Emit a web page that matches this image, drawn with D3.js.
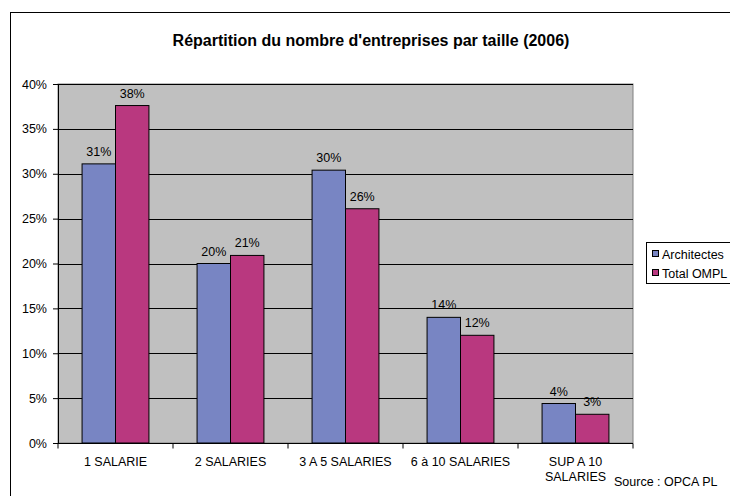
<!DOCTYPE html>
<html>
<head>
<meta charset="utf-8">
<script src="https://cdn.jsdelivr.net/npm/d3@7"></script>
<style>
  body { margin: 0; background: #fff; }
  svg text { font-family: "Liberation Sans", Arial, sans-serif; fill: #000; }
</style>
</head>
<body>
<div id="chart"></div>
<script>
const categories = ["1 SALARIE", "2 SALARIES", "3 A 5 SALARIES", "6 à 10 SALARIES", "SUP A 10 SALARIES"]
const seriesNames = ["Architectes", "Total OMPL"]
const architectes = [31.1, 20.0, 30.4, 14.0, 4.4]
const totalOmpl = [37.6, 20.9, 26.1, 12.0, 3.2]
const yTicks = [0, 5, 10, 15, 20, 25, 30, 35, 40]
const colors = ["#7885c3", "#b9387f"]

const width = 730, height = 496
const margin = {top: 84, left: 58, right: 97, bottom: 53}
const fs = 12.5

const svg = d3.select('#chart')
    .append('svg')
    .attr('width', width)
    .attr('height', height)

// outer frame
svg.append("rect")
    .attr("x", 10.5).attr("y", 12.5)
    .attr("width", 740).attr("height", 500)
    .attr("fill", "none")
    .attr("stroke", "#000")

svg.append("text")
    .attr("x", 371).attr("y", 46)
    .attr("text-anchor", "middle")
    .attr("font-size", 16)
    .attr("font-weight", "bold")
    .text("Répartition du nombre d'entreprises par taille (2006)")

const x = d3.scaleBand(categories, [margin.left, width - margin.right])
const xInner = d3.scaleBand(seriesNames, [0, x.bandwidth()]).paddingInner(0).paddingOuter(0.72)
const y = d3.scaleLinear([0, 40], [height - margin.bottom, margin.top])

svg.append("rect")
    .attr("x", margin.left).attr("y", margin.top)
    .attr("width", width - margin.right - margin.left)
    .attr("height", height - margin.bottom - margin.top)
    .attr("fill", "#c0c0c0")
    .attr("stroke", "#808080")

svg.append("g")
    .selectAll("line")
    .data(yTicks.slice(1))
    .join("line")
    .attr("x1", margin.left).attr("x2", width - margin.right)
    .attr("y1", d => Math.round(y(d)) + 0.5).attr("y2", d => Math.round(y(d)) + 0.5)
    .attr("stroke", "#000")

const rows = categories.map((c, i) => ({cat: c, values: [architectes[i], totalOmpl[i]]}))

const groups = svg.append("g")
    .selectAll("g")
    .data(rows)
    .join("g")
    .attr("transform", d => `translate(${x(d.cat)},0)`)

groups.selectAll("rect")
    .data(d => d.values.map((v, j) => ({name: seriesNames[j], v, j})))
    .join("rect")
    .attr("x", d => xInner(d.name))
    .attr("y", d => y(d.v))
    .attr("width", xInner.bandwidth())
    .attr("height", d => y(0) - y(d.v))
    .attr("fill", d => colors[d.j])
    .attr("stroke", "#000")
    .attr("stroke-width", 1)

groups.selectAll("text")
    .data(d => d.values.map((v, j) => ({name: seriesNames[j], v, j})))
    .join("text")
    .attr("x", d => xInner(d.name) + xInner.bandwidth() / 2)
    .attr("y", d => y(d.v) - 8)
    .attr("text-anchor", "middle")
    .attr("font-size", fs)
    .text(d => Math.round(d.v) + "%")

// y axis
const yAxis = svg.append("g")
    .attr("transform", `translate(${margin.left},0)`)
    .call(d3.axisLeft(y).tickValues(yTicks).tickFormat(d => d + "%").tickSize(5).tickPadding(6))
yAxis.select(".domain").attr("stroke", "#000")
yAxis.selectAll("text").attr("font-size", fs)

// x axis
const xAxisG = svg.append("g").attr("transform", `translate(0,${height - margin.bottom + 0.5})`)
xAxisG.append("line")
    .attr("x1", margin.left).attr("x2", width - margin.right)
    .attr("stroke", "#000")
xAxisG.selectAll("line.tick")
    .data(d3.range(categories.length + 1))
    .join("line")
    .attr("class", "tick")
    .attr("x1", i => i < categories.length ? x(categories[i]) : x(categories[i - 1]) + x.bandwidth())
    .attr("x2", i => i < categories.length ? x(categories[i]) : x(categories[i - 1]) + x.bandwidth())
    .attr("y1", 0).attr("y2", 5)
    .attr("stroke", "#000")

xAxisG.selectAll("text")
    .data(categories)
    .join("text")
    .attr("x", d => x(d) + x.bandwidth() / 2)
    .attr("y", 22)
    .attr("text-anchor", "middle")
    .attr("font-size", fs)
    .each(function (d) {
        const el = d3.select(this)
        const lines = d === "SUP A 10 SALARIES" ? ["SUP A 10", "SALARIES"] : [d]
        lines.forEach((l, k) => el.append("tspan").attr("x", x(d) + x.bandwidth() / 2).attr("dy", k ? 15 : 0).text(l))
    })

// legend
const legend = svg.append("g").attr("transform", "translate(646,242)")
legend.append("rect")
    .attr("x", 0.5).attr("y", 0.5).attr("width", 100).attr("height", 41)
    .attr("fill", "#fff").attr("stroke", "#000")
const li = legend.selectAll("g")
    .data(seriesNames)
    .join("g")
    .attr("transform", (d, i) => `translate(6,${12 + i * 19})`)
li.append("rect")
    .attr("x", 0.5).attr("y", -3.5).attr("width", 6).attr("height", 6)
    .attr("fill", (d, i) => colors[i]).attr("stroke", "#000")
li.append("text")
    .attr("x", 10).attr("y", 4.5)
    .attr("font-size", fs)
    .text(d => d)

svg.append("text")
    .attr("x", 614).attr("y", 486)
    .attr("font-size", fs)
    .text("Source : OPCA PL")
</script>
</body>
</html>
